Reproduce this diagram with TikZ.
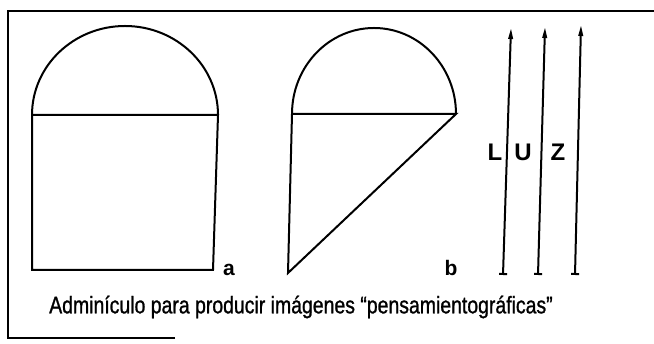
\documentclass[tikz,border=0pt]{standalone}
\usepackage{fontspec}
\setmainfont{Liberation Sans}
\newfontfamily\capfont[FakeStretch=0.81,FakeBold=1]{Liberation Sans}
\usetikzlibrary{arrows.meta}

\begin{document}
\begin{tikzpicture}[x=1pt,y=1pt,line width=2pt,
  lab/.style={font=\bfseries\fontsize{21}{21}\selectfont,inner sep=0pt},
  ray/.style={{Bar[width=8pt,line width=2pt]}-{Triangle[length=11pt,width=4.5pt]}}]
\useasboundingbox (0,0) rectangle (654,344);
% frame
\coordinate (FB) at (175,6);
\coordinate (FL) at (8,6);
\coordinate (FT) at (8,333);
\coordinate (FR) at (654,333);
\draw (FB) -- (FL) -- (FT) -- (FR);

% figure a
\coordinate (A) at (32,229);
\coordinate (B) at (218,229);
\coordinate (C) at (213,74);
\coordinate (D) at (32,74);
\draw (A) arc[start angle=180,end angle=0,x radius=93pt,y radius=89pt];
\draw (A) -- (B) -- (C) -- (D) -- cycle;
\node[lab,anchor=base west] (la) at (222,68) {a};

% figure b
\coordinate (E) at (292,230);
\coordinate (G) at (288,71);
\draw (E) arc[start angle=180,end angle=0,x radius=82pt,y radius=86pt]
  coordinate (F);
\draw (E) -- (F) -- (G) -- cycle;
\node[lab,anchor=base] (lb) at (451,68) {b};

% light
\foreach \n/\xb/\xt/\yt/\xl in {L/503/511/316/495,U/538/545/317/523,Z/575/581/319/558}{
  \coordinate (\n0) at (\xb,69);
  \coordinate (\n1) at (\xt,\yt);
  \draw[ray] (\n0) -- (\n1);
  \node[lab,font=\bfseries\fontsize{24}{24}\selectfont] (l\n) at (\xl,192) {\n};
}

\node[font=\capfont\fontsize{24}{24}\selectfont] (cap) at (301,37)
  {Adminículo para producir imágenes “pensamientográficas”};
\end{tikzpicture}
\end{document}
